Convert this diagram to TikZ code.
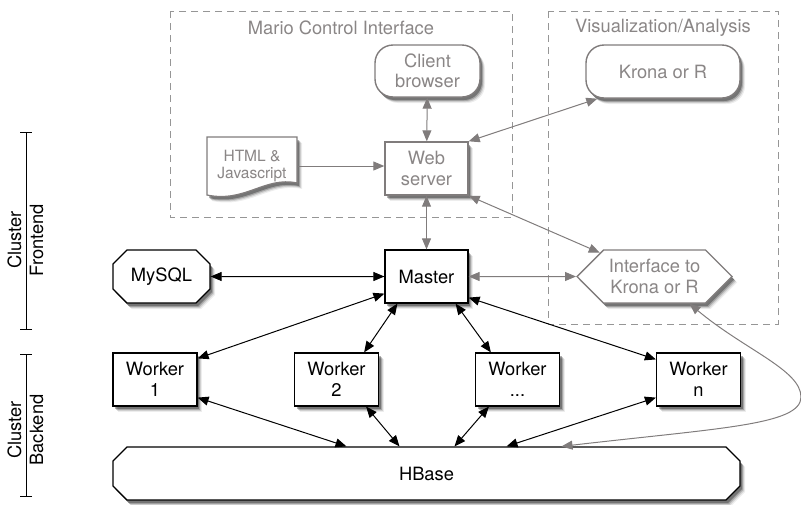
\documentclass[tikz,border=0pt]{standalone}
\usepackage{fontspec}
\setmainfont{TeX Gyre Heros}
\usetikzlibrary{positioning,arrows.meta,shapes.misc,shapes.symbols,shadows}
\definecolor{softgrey}{RGB}{138,134,134}
\definecolor{linegrey}{RGB}{128,124,124}
\definecolor{framegrey}{RGB}{150,150,150}

\begin{document}
\begin{tikzpicture}[x=1pt,y=-1pt,
  font=\fontsize{18.3}{20.5}\selectfont,
  shd/.style={drop shadow={shadow xshift=5pt,shadow yshift=-6pt,opacity=.07,fill=black},
              drop shadow={shadow xshift=4pt,shadow yshift=-5pt,opacity=.12,fill=black},
              drop shadow={shadow xshift=3pt,shadow yshift=-4pt,opacity=.2,fill=black},
              drop shadow={shadow xshift=2pt,shadow yshift=-3pt,opacity=.3,fill=black}},
  blk/.style={draw,line width=1.2pt,fill=white,align=center,inner sep=2pt,
              minimum height=53pt,shd},
  gblk/.style={blk,draw=linegrey,text=softgrey,line width=1.4pt},
  wrk/.style={blk,minimum width=84pt},
  pill/.style={gblk,rounded corners=18pt},
  chamf/.style={blk,chamfered rectangle,chamfered rectangle xsep=7pt,
                chamfered rectangle ysep=7pt},
  frame/.style={draw=framegrey,line width=1pt,dash pattern=on 7pt off 5pt},
  ftitle/.style={text=softgrey},
  ar/.style={{Triangle[length=11pt,width=9pt]}-{Triangle[length=11pt,width=9pt]},
             line width=1pt},
  gar/.style={ar,draw=linegrey},
  gone/.style={-{Triangle[length=11pt,width=9pt]},line width=1pt,draw=linegrey},
  bar/.style={{Bar[width=12pt]}-{Bar[width=12pt]},line width=1pt},
  side/.style={rotate=90,align=center,font=\fontsize{18.3}{22}\selectfont}
]
\useasboundingbox (0,0) rectangle (801,504);

\draw[frame] (170,11) rectangle (512,217);
\node[ftitle] (mci) at (341,28) {Mario Control Interface};
\draw[frame] (548,11) rectangle (778,324);
\node[ftitle] (vis) at (663,28) {Visualization/Analysis};

\node[pill,minimum width=105pt,minimum height=52pt] (client) at (427.5,71) {Client\\browser};
\node[pill,minimum width=154pt] (krona) at (663,71.5) {Krona or R};
\node[gblk,minimum width=83pt] (web) at (426.5,168.5) {Web\\server};
\draw[draw=linegrey,line width=1.2pt,fill=white,shd]
  (207,137) -- (297,137) -- (297,183)
  .. controls (265,176) and (245,203) .. (207,195) -- cycle;
\node[minimum width=90pt,minimum height=58pt,align=center,text=softgrey,
      font=\fontsize{15.5}{16.5}\selectfont] (html) at (252,166) {HTML \&\\Javascript};

\node[blk,minimum width=83pt] (master) at (426.5,276.5) {Master};
\node[chamf,minimum width=97pt] (mysql) at (161.5,276.5) {MySQL};
\node[gblk,signal,signal to=west and east,signal pointer angle=90,
      minimum width=155pt] (iface) at (654.5,276.5) {Interface to\\Krona or R};

\node[wrk] (w1) at (155,379.5) {Worker\\1};
\node[wrk] (w2) at (336.5,379.5) {Worker\\2};
\node[wrk] (wd) at (517.5,379.5) {Worker\\...};
\node[wrk] (wn) at (698.5,379.5) {Worker\\n};

\node[chamf,minimum width=627pt] (hbase) at (426.5,473.5) {HBase};

\draw[bar] (26,132) -- (26,330);
\node[side] (front) at (25.5,240) {Cluster\\Frontend};
\draw[bar] (26,354) -- (26,497);
\node[side] (back) at (25.5,430) {Cluster\\Backend};

\draw[gone] (html.east) -- (web.west |- html.east);
\draw[gar] (client) -- (web);
\draw[gar] (web) -- (master);
\draw[gar] (web.north east) -- ([xshift=12pt]krona.south west);
\draw[gar] (web.south east) -- (iface);
\draw[gar] (master) -- (iface);
\draw[ar] (mysql) -- (master);

\draw[ar] ([yshift=10pt]master.south west) -- ([yshift=-6pt]w1.north east);
\draw[ar] ([xshift=13pt]master.south west) -- ([xshift=-15pt]w2.north east);
\draw[ar] ([xshift=-13pt]master.south east) -- ([xshift=16pt]wd.north west);
\draw[ar] ([yshift=6pt]master.south east) -- ([yshift=-7pt]wn.north west);

\draw[ar] ([yshift=9pt]w1.south east) -- ([xshift=-80pt]hbase.north);
\draw[ar] ([xshift=-13pt]w2.south east) -- ([xshift=-27pt]hbase.north);
\draw[ar] ([xshift=14pt]wd.south west) -- ([xshift=28pt]hbase.north);
\draw[ar] ([yshift=9pt]wn.south west) -- ([xshift=80pt]hbase.north);

\draw[gar] ([xshift=135pt]hbase.north) .. controls (720,428) and (801,425) .. (801,397)
  .. controls (801,370) and (745,350) .. ([xshift=35pt]iface.south);
\end{tikzpicture}
\end{document}
